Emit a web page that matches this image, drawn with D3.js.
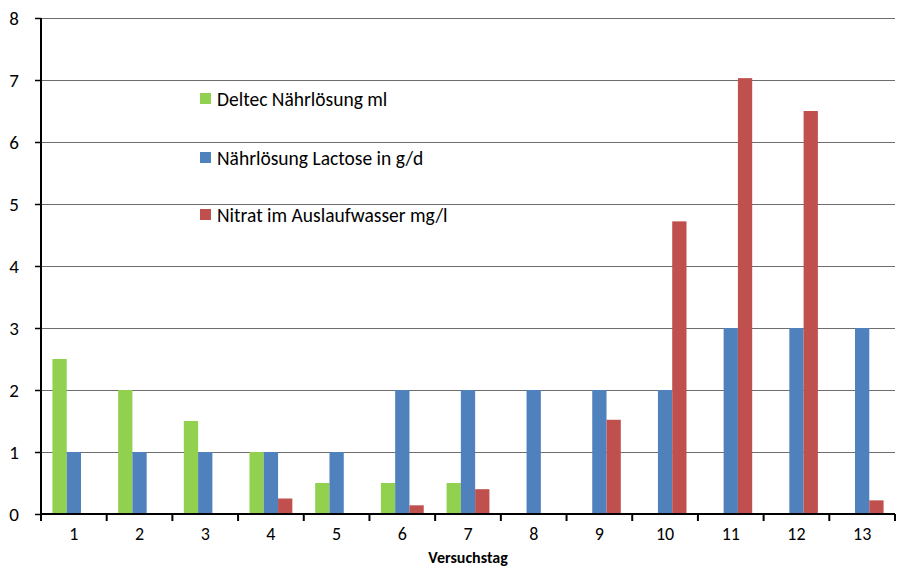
<!DOCTYPE html>
<html><head><meta charset="utf-8">
<script src="https://cdn.jsdelivr.net/npm/d3@7/dist/d3.min.js"></script>
<style>body{margin:0;background:#fff}svg{display:block}</style>
</head><body><svg id="c" width="901" height="566"></svg>
<script>
const days = ["1","2","3","4","5","6","7","8","9","10","11","12","13"];
const deltec = [2.5,2,1.5,1,0.5,0.5,0.5,0,0,0,0,0,0];
const lactose = [1,1,1,1,1,2,2,2,2,2,3,3,3];
const nitrat = [0,0,0,0.25,0,0.14,0.4,0,1.52,4.72,7.03,6.5,0.22];
const seriesNames = ["Deltec Nährlösung ml","Nährlösung Lactose in g/d","Nitrat im Auslaufwasser mg/l"];
const colors = ["#92d050","#4f81bd","#c0504d"];
const yTicks = [0,1,2,3,4,5,6,7,8];

const svg = d3.select("#c");
const L=41,R=895,T=18,B=514;
const font = "Carlito, Calibri, Lato, sans-serif";
const x = d3.scaleBand().domain(days).range([L,R]).paddingInner(0).paddingOuter(0);
const y = d3.scaleLinear().domain([0,8]).range([B,T]);
const inner = d3.scaleBand().domain([0,1,2]).range([0,x.bandwidth()]).paddingInner(0).paddingOuter(0.8);

// gridlines
svg.append("g").selectAll("line").data(yTicks.filter(d=>d>0)).join("line")
 .attr("x1",L).attr("x2",R).attr("y1",d=>y(d)+0.5).attr("y2",d=>y(d)+0.5)
 .attr("stroke","#6e6e6e").attr("stroke-width",1.2);

const series=[deltec,lactose,nitrat];
series.forEach((s,i)=>{
  svg.append("g").selectAll("rect").data(s.map((v,j)=>({v,d:days[j]}))).join("rect")
   .attr("x",d=>x(d.d)+inner(i)).attr("width",inner.bandwidth())
   .attr("y",d=>y(d.v)).attr("height",d=>B-y(d.v)).attr("fill",colors[i]);
});

// y axis
const ya = svg.append("g").attr("transform",`translate(${L},0)`)
 .call(d3.axisLeft(y).tickValues(yTicks).tickSize(6).tickPadding(16).tickFormat(d3.format("d")));
ya.select(".domain").attr("stroke","#000").attr("stroke-width",2).attr("d",`M0,${T}V${B}`);
ya.selectAll(".tick line").attr("stroke","#000").attr("stroke-width",1.5);
ya.selectAll("text").attr("font-family",font).attr("font-size",19).attr("fill","#000");

// x axis
const xa = svg.append("g").attr("transform",`translate(0,${B})`)
 .call(d3.axisBottom(x).tickSize(0).tickPadding(13));
xa.select(".domain").attr("stroke","#000").attr("stroke-width",2).attr("d",`M${L},0H${R}`);
xa.selectAll("text").attr("font-family",font).attr("font-size",18).attr("fill","#000");
const bounds = days.map(d=>x(d)).concat([R]);
svg.append("g").selectAll("line").data(bounds).join("line")
 .attr("x1",d=>d).attr("x2",d=>d).attr("y1",B).attr("y2",B+7).attr("stroke","#000").attr("stroke-width",2);

svg.append("text").attr("x",468).attr("y",563).attr("text-anchor","middle")
 .attr("font-family",font).attr("font-size",16).attr("font-weight","bold").text("Versuchstag");

// legend
const ly=[99,158,215];
seriesNames.forEach((n,i)=>{
  svg.append("rect").attr("x",200).attr("y",ly[i]-6).attr("width",11).attr("height",11).attr("fill",colors[i]);
  svg.append("text").attr("x",217).attr("y",ly[i]+7).attr("font-family",font).attr("font-size",19.5).text(n);
});
</script></body></html>
